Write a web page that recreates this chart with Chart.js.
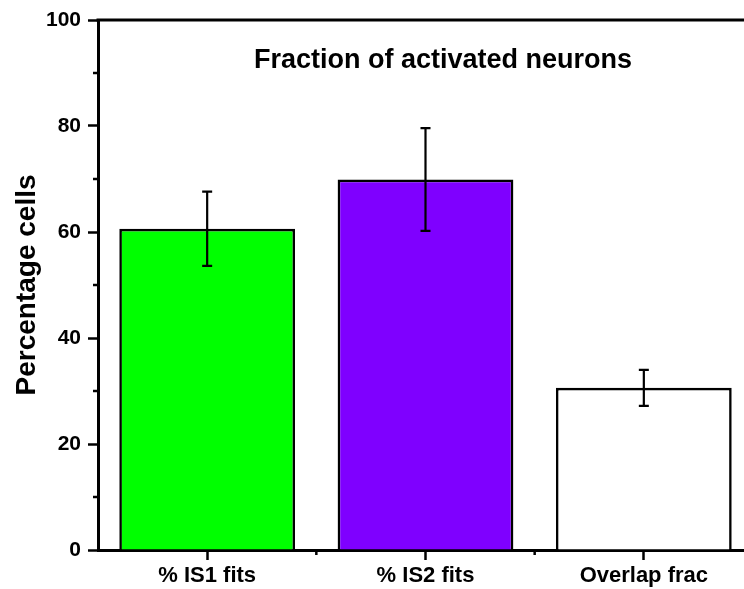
<!DOCTYPE html>
<html>
<head>
<meta charset="utf-8">
<script src="https://cdn.jsdelivr.net/npm/chart.js@4/dist/chart.umd.min.js"></script>
<style>
  html, body { margin: 0; padding: 0; background: #fff; }
  #wrap { width: 744px; height: 589px; overflow: hidden; position: relative; }
  #c { position: absolute; left: 0; top: 0; }
</style>
</head>
<body>
<div id="wrap"><canvas id="c" width="770" height="589"></canvas></div>
<script>
// Categories and measured values (mean ± error, percent of cells)
const categories = ['% IS1 fits', '% IS2 fits', 'Overlap frac'];
const meanValues = [60.6, 69.9, 30.6];
const errorValues = [7.0, 9.7, 3.4];
const barColors = ['#00ff00', '#7f00ff', '#ffffff'];
const yTicks = [0, 20, 40, 60, 80, 100];
const yMinorTicks = [10, 30, 50, 70, 90];

const FONT = '"Liberation Sans", Arial, Helvetica, sans-serif';

// Error bars, minor ticks, frame top and title inside the plot
const extras = {
  id: 'extras',
  afterDatasetsDraw(chart) {
    const ctx = chart.ctx;
    const y = chart.scales.y;
    const meta = chart.getDatasetMeta(0);
    ctx.save();
    ctx.strokeStyle = '#000';
    ctx.lineWidth = 2.2;
    meta.data.forEach((bar, i) => {
      const cx = bar.x;
      const top = y.getPixelForValue(meanValues[i] + errorValues[i]);
      const bot = y.getPixelForValue(meanValues[i] - errorValues[i]);
      ctx.beginPath();
      ctx.moveTo(cx, top); ctx.lineTo(cx, bot);
      ctx.moveTo(cx - 5, top); ctx.lineTo(cx + 5, top);
      ctx.moveTo(cx - 5, bot); ctx.lineTo(cx + 5, bot);
      ctx.stroke();
    });
    ctx.restore();
  },
  afterDraw(chart) {
    const ctx = chart.ctx;
    const y = chart.scales.y;
    const x = chart.scales.x;
    const area = chart.chartArea;
    ctx.save();
    ctx.strokeStyle = '#000';
    // top frame line
    ctx.lineWidth = 3;
    ctx.beginPath();
    ctx.moveTo(area.left - 1.5, area.top);
    ctx.lineTo(area.right, area.top);
    ctx.stroke();
    // minor ticks on the y axis
    ctx.lineWidth = 2.5;
    yMinorTicks.forEach(v => {
      const py = y.getPixelForValue(v);
      ctx.beginPath();
      ctx.moveTo(area.left - 5, py);
      ctx.lineTo(area.left, py);
      ctx.stroke();
    });
    // minor ticks between categories
    for (let i = 0; i < categories.length - 1; i++) {
      const px = (x.getPixelForValue(i) + x.getPixelForValue(i + 1)) / 2;
      ctx.beginPath();
      ctx.moveTo(px, area.bottom);
      ctx.lineTo(px, area.bottom + 5);
      ctx.stroke();
    }
    // title
    ctx.fillStyle = '#000';
    ctx.font = 'bold 27px ' + FONT;
    ctx.textAlign = 'center';
    ctx.textBaseline = 'middle';
    ctx.fillText('Fraction of activated neurons', 443, 61);
    ctx.restore();
  }
};

new Chart(document.getElementById('c'), {
  type: 'bar',
  data: {
    labels: categories,
    datasets: [{
      data: meanValues,
      backgroundColor: barColors,
      borderColor: '#000',
      borderWidth: 2.6,
      categoryPercentage: 1.0,
      barPercentage: 0.805
    }]
  },
  options: {
    responsive: false,
    animation: false,
    layout: { padding: { left: 0, right: 17, top: 20, bottom: 0 } },
    plugins: { legend: { display: false }, tooltip: { enabled: false }, title: { display: false } },
    scales: {
      x: {
        offset: true,
        grid: {
          display: true, drawOnChartArea: false, drawTicks: true,
          offset: false, tickLength: 10, tickWidth: 2.5, tickColor: '#000'
        },
        border: { display: true, color: '#000', width: 3 },
        ticks: {
          color: '#000', padding: 3,
          font: { family: FONT, size: 22, weight: 'bold' }
        },
        afterFit(scale) { scale.height = 39; }
      },
      y: {
        min: 0, max: 100,
        afterBuildTicks(scale) { scale.ticks = yTicks.map(v => ({ value: v })); },
        grid: {
          display: true, drawOnChartArea: false, drawTicks: true,
          tickLength: 10, tickWidth: 2.5, tickColor: '#000'
        },
        border: { display: true, color: '#000', width: 3 },
        ticks: {
          color: '#000', padding: 7,
          font: { family: FONT, size: 21, weight: 'bold' }
        },
        title: {
          display: true, text: 'Percentage cells', color: '#000',
          font: { family: FONT, size: 28, weight: 'bold' },
          padding: { top: 10, bottom: 0 }
        },
        afterFit(scale) { scale.width = 98; }
      }
    }
  },
  plugins: [extras]
});
</script>
</body>
</html>
